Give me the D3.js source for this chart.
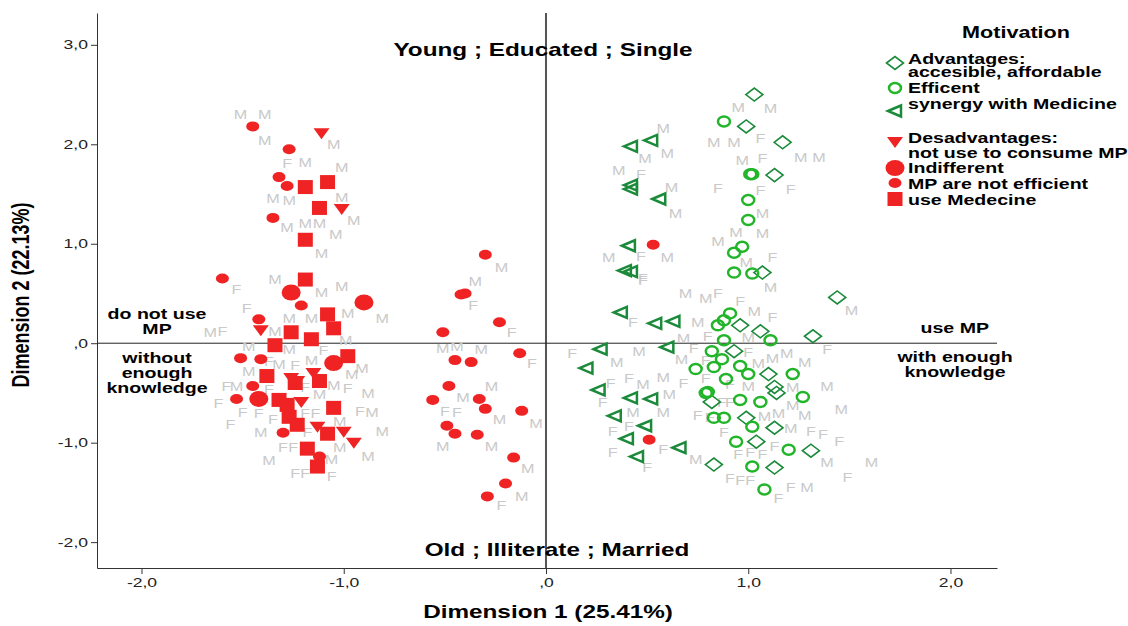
<!DOCTYPE html>
<html>
<head>
<meta charset="utf-8">
<script src="https://cdn.jsdelivr.net/npm/d3@7/dist/d3.min.js"></script>
<style>
body { margin: 0; background: #fff; }
text { font-family: "Liberation Sans", Arial, sans-serif; }
</style>
</head>
<body>
<div id="chart"></div>
<script>
var width = 1128;
var height = 626;
var SX = 1.35; // the picture is stretched sideways, text too

// points per motivation category, [dimension 1, dimension 2]
var notEfficient = [
	[-1.45, 2.18], [-1.27, 1.95], [-1.32, 1.67], [-1.28, 1.58], [-1.35, 1.26], [-1.60, 0.65],
	[-1.21, 0.38], [-1.42, 0.24], [-1.51, -0.15], [-1.41, -0.16], [-1.45, -0.43], [-1.53, -0.56],
	[-1.30, -0.90], [-1.12, -1.14],
	[-0.30, 0.89], [-0.42, 0.49], [-0.40, 0.50], [-0.23, 0.21], [-0.51, 0.11], [-0.13, -0.10],
	[-0.45, -0.17], [-0.37, -0.19], [-0.48, -0.43], [-0.56, -0.57], [-0.33, -0.56], [-0.30, -0.66],
	[-0.12, -0.68], [-0.49, -0.83], [-0.45, -0.91], [-0.34, -0.92], [-0.16, -1.15], [-0.20, -1.41],
	[-0.29, -1.54],
	[0.53, 0.99], [0.51, -0.97]
];
var indifferent = [[-1.26, 0.51], [-0.90, 0.41], [-1.05, -0.20], [-1.42, -0.56]];
var useMedecine = [
	[-1.19, 1.57], [-1.08, 1.62], [-1.12, 1.36], [-1.19, 1.04], [-1.19, 0.64], [-1.08, 0.29],
	[-1.05, 0.15], [-1.26, 0.11], [-1.16, 0.04], [-1.34, -0.02], [-0.98, -0.13], [-1.38, -0.33],
	[-1.24, -0.40], [-1.12, -0.38], [-1.32, -0.57], [-1.28, -0.62], [-1.05, -0.65], [-1.27, -0.74],
	[-1.23, -0.82], [-1.08, -0.91], [-1.18, -1.06], [-1.13, -1.24]
];
var notUseToConsume = [
	[-1.11, 2.11], [-1.01, 1.35], [-1.41, 0.13], [-1.26, -0.35], [-1.15, -0.30], [-1.23, -0.38],
	[-1.21, -0.59], [-1.13, -0.84], [-1.00, -0.89], [-0.95, -1.00]
];
var efficent = [
	[0.88, 2.23], [1.01, 1.70], [1.02, 1.70], [1.00, 1.44], [1.00, 1.24], [0.97, 0.97], [0.93, 0.91],
	[0.93, 0.71], [1.02, 0.70], [0.91, 0.30], [0.88, 0.23], [0.85, 0.18], [1.11, 0.03], [0.88, 0.03],
	[0.82, -0.08], [0.87, -0.16], [0.83, -0.24], [0.96, -0.23], [1.00, -0.31], [1.22, -0.31],
	[0.89, -0.36], [0.80, -0.49], [0.96, -0.57], [1.06, -0.59], [1.27, -0.54], [0.88, -0.75],
	[1.02, -0.84], [0.94, -0.99], [1.20, -1.07], [1.02, -1.24], [1.08, -1.47], [0.74, -0.26],
	[0.79, -0.50], [0.83, -0.75]
];
var advantages = [
	[1.03, 2.50], [0.99, 2.18], [1.17, 2.02], [1.13, 1.69], [1.07, 0.71], [1.44, 0.46], [0.96, 0.18],
	[1.06, 0.12], [1.32, 0.07], [0.93, -0.08], [1.10, -0.31], [1.13, -0.44], [1.14, -0.50],
	[0.82, -0.59], [0.99, -0.75], [1.13, -0.85], [1.04, -0.99], [1.31, -1.08], [0.83, -1.22],
	[1.13, -1.25]
];
var synergy = [
	[0.42, 1.98], [0.52, 2.04], [0.42, 1.59], [0.42, 1.55], [0.56, 1.45], [0.41, 0.98], [0.39, 0.73],
	[0.42, 0.72], [0.37, 0.31], [0.54, 0.20], [0.63, 0.22], [0.60, -0.04], [0.27, -0.06], [0.20, -0.25],
	[0.26, -0.47], [0.42, -0.55], [0.52, -0.56], [0.34, -0.73], [0.49, -0.83], [0.40, -0.96],
	[0.45, -1.14], [0.66, -1.05]
];

// gender of each respondent, [dimension 1, dimension 2, label]
var genderLabels = [
	[-1.51, 2.30, "M"], [-1.39, 2.30, "M"], [-1.39, 2.04, "M"], [-1.05, 2.00, "M"], [-1.28, 1.81, "F"],
	[-1.19, 1.82, "M"], [-1.01, 1.77, "M"], [-1.35, 1.46, "M"], [-1.27, 1.43, "M"], [-1.01, 1.47, "M"],
	[-0.95, 1.23, "M"], [-1.28, 1.16, "M"], [-1.19, 1.20, "M"], [-1.12, 1.20, "M"], [-1.04, 1.09, "M"],
	[-1.11, 0.90, "M"],
	[-1.34, 0.64, "M"], [-1.53, 0.54, "F"], [-1.11, 0.51, "M"], [-1.01, 0.57, "M"], [-1.48, 0.35, "F"],
	[-1.27, 0.25, "M"], [-1.16, 0.25, "M"], [-0.98, 0.30, "M"], [-0.81, 0.25, "M"], [-1.66, 0.11, "M"],
	[-1.60, 0.12, "F"], [-1.34, 0.12, "M"], [-1.47, -0.03, "M"], [-1.27, -0.06, "M"], [-1.10, -0.07, "F"],
	[-0.99, 0.03, "M"], [-1.37, -0.18, "F"], [-1.32, -0.21, "M"], [-1.24, -0.22, "F"], [-1.16, -0.17, "M"],
	[-1.47, -0.28, "M"], [-0.96, -0.31, "M"], [-0.91, -0.25, "M"], [-1.58, -0.44, "F"], [-1.53, -0.44, "M"],
	[-1.37, -0.47, "F"], [-1.19, -0.45, "F"], [-1.12, -0.52, "M"], [-1.05, -0.43, "M"], [-0.98, -0.46, "F"],
	[-0.88, -0.51, "M"], [-1.62, -0.61, "F"], [-1.50, -0.70, "F"], [-1.42, -0.71, "F"], [-1.35, -0.77, "F"],
	[-1.19, -0.71, "F"], [-1.14, -0.71, "F"], [-0.92, -0.69, "F"], [-0.86, -0.70, "M"], [-1.02, -0.79, "M"],
	[-1.56, -0.82, "F"], [-1.41, -0.90, "M"], [-1.18, -0.90, "F"], [-0.81, -0.89, "M"], [-1.30, -1.05, "F"],
	[-1.25, -1.05, "F"], [-1.02, -1.05, "M"], [-1.37, -1.18, "M"], [-1.06, -1.17, "M"], [-0.88, -1.14, "M"],
	[-1.24, -1.31, "F"], [-1.19, -1.31, "F"], [-1.06, -1.34, "F"],
	[-0.22, 0.76, "M"], [-0.35, 0.62, "M"], [-0.36, 0.38, "F"], [-0.17, 0.11, "F"], [-0.51, -0.05, "M"],
	[-0.44, -0.03, "M"], [-0.32, -0.06, "M"], [-0.07, -0.20, "F"], [-0.27, -0.44, "M"], [-0.41, -0.55, "M"],
	[-0.50, -0.69, "F"], [-0.44, -0.70, "F"], [-0.23, -0.77, "M"], [-0.05, -0.81, "M"], [-0.51, -1.04, "M"],
	[-0.27, -1.04, "M"], [-0.09, -1.26, "M"], [-0.12, -1.54, "M"], [-0.22, -1.63, "F"],
	[0.58, 2.16, "M"], [0.83, 2.02, "M"], [0.49, 1.86, "M"], [0.60, 1.91, "M"], [0.36, 1.74, "M"],
	[0.47, 1.70, "F"], [0.62, 1.57, "M"], [0.64, 1.30, "M"], [0.85, 1.56, "F"], [0.85, 1.02, "M"],
	[0.31, 0.86, "M"], [0.47, 0.87, "F"], [0.60, 0.86, "M"], [0.48, 0.65, "F"],
	[0.95, 2.37, "M"], [1.11, 2.36, "M"], [0.93, 2.02, "M"], [1.06, 2.06, "F"], [1.26, 1.87, "M"],
	[1.35, 1.87, "M"], [0.97, 1.84, "M"], [1.07, 1.86, "F"], [1.06, 1.54, "F"], [1.21, 1.55, "F"],
	[1.07, 1.30, "M"], [0.94, 1.11, "M"], [1.07, 1.10, "M"], [0.99, 0.81, "M"], [1.12, 0.86, "F"],
	[0.48, 0.63, "F"], [0.69, 0.50, "M"], [0.79, 0.45, "M"], [0.85, 0.50, "F"], [0.43, 0.21, "F"],
	[0.75, 0.21, "M"], [0.68, 0.05, "M"], [0.80, 0.07, "F"], [0.13, -0.10, "F"], [0.35, -0.19, "M"],
	[0.46, -0.08, "M"], [0.67, -0.16, "M"], [0.73, -0.05, "F"], [0.79, -0.17, "F"], [0.32, -0.40, "F"],
	[0.41, -0.35, "F"], [0.48, -0.42, "M"], [0.58, -0.34, "M"], [0.68, -0.40, "F"], [0.79, -0.35, "F"],
	[0.61, -0.52, "M"], [0.28, -0.60, "F"], [0.43, -0.70, "M"], [0.58, -0.70, "M"], [0.75, -0.73, "F"],
	[0.81, -0.75, "F"], [0.33, -0.89, "F"], [0.41, -0.84, "F"], [0.58, -1.07, "F"], [0.33, -1.10, "F"],
	[0.50, -1.25, "F"], [0.74, -1.17, "M"],
	[1.11, 0.56, "M"], [0.96, 0.42, "F"], [1.03, 0.32, "M"], [1.12, 0.26, "F"], [1.51, 0.33, "M"],
	[1.00, 0.06, "M"], [1.39, -0.06, "F"], [1.00, -0.09, "F"], [1.05, -0.20, "M"], [1.12, -0.15, "M"],
	[1.19, -0.10, "M"], [1.28, -0.19, "M"], [0.91, -0.42, "F"], [1.00, -0.44, "M"], [1.22, -0.45, "M"],
	[1.39, -0.44, "M"], [0.87, -0.60, "F"], [0.91, -0.60, "F"], [1.22, -0.63, "M"], [1.46, -0.67, "M"],
	[1.08, -0.74, "M"], [1.15, -0.71, "M"], [1.28, -0.73, "M"], [1.21, -0.86, "M"], [1.31, -0.89, "F"],
	[1.37, -0.92, "F"], [1.45, -0.99, "F"], [0.88, -0.90, "F"], [0.95, -1.12, "F"], [1.01, -1.10, "F"],
	[1.07, -1.12, "F"], [1.13, -1.04, "F"], [1.39, -1.20, "M"], [1.61, -1.20, "M"], [1.49, -1.35, "F"],
	[0.91, -1.36, "F"], [0.96, -1.38, "F"], [1.01, -1.38, "F"], [1.21, -1.45, "F"], [1.29, -1.45, "M"],
	[1.15, -1.56, "F"]
];

var xTicks = [-2, -1, 0, 1, 2];
var yTicks = [-2, -1, 0, 1, 2, 3];
var legendTitle = "Motivation";
var legendLabels = [
	["Advantages:", "accesible, affordable"], ["Efficent"], ["synergy with Medicine"],
	["Desadvantages:", "not use to consume MP"], ["Indifferent"], ["MP are not efficient"], ["use Medecine"]
];

var red = "#ef2323";
var green = "#22b52a";
var darkGreen = "#1b8a3a";
var gray = "#c9c9c9";

var svg = d3.select("#chart").append("svg")
	.attr("width", width)
	.attr("height", height);

var x = d3.scaleLinear().domain([-2.22, 2.23]).range([97, 997]);
var y = d3.scaleLinear().domain([-2.26, 3.32]).range([568, 13]);

function tickFmt(d) {
	if (d === 0) return ",0";
	return d3.format(".1f")(d).replace(".", ",").replace("\u2212", "-");
}

// stretched text helper
function label(g, px, py, str, size, anchor, weight, fill) {
	return g.append("text")
		.attr("transform", "translate(" + px + "," + py + ") scale(" + SX + ",1)")
		.attr("text-anchor", anchor || "start")
		.style("font-size", size + "px")
		.style("font-weight", weight || "bold")
		.style("fill", fill || "#000")
		.text(str);
}

// axes
var xAxis = svg.append("g")
	.attr("transform", "translate(0,568)")
	.call(d3.axisBottom(x).tickValues(xTicks).tickSize(6).tickSizeOuter(0).tickPadding(4).tickFormat(tickFmt));
xAxis.selectAll("text")
	.attr("transform", "scale(" + SX + ",1)")
	.style("font-size", "13px").style("fill", "#222");

var yAxis = svg.append("g")
	.attr("transform", "translate(97,0)")
	.call(d3.axisLeft(y).tickValues(yTicks).tickSize(6).tickSizeOuter(0).tickPadding(3).tickFormat(tickFmt));
yAxis.selectAll("text")
	.attr("x", -9 / SX)
	.attr("transform", "scale(" + SX + ",1)")
	.style("font-size", "13px").style("fill", "#222");
svg.selectAll(".domain").attr("stroke", "#333");
svg.selectAll(".tick line").attr("stroke", "#333");

// reference lines through the origin
svg.append("line")
	.attr("x1", x(0)).attr("x2", x(0))
	.attr("y1", y.range()[1]).attr("y2", y.range()[0])
	.attr("stroke", "#555").attr("stroke-width", 2);
svg.append("line")
	.attr("x1", x.range()[0]).attr("x2", x.range()[1])
	.attr("y1", y(0)).attr("y2", y(0))
	.attr("stroke", "#222").attr("stroke-width", 1);

// gender labels
var lab = svg.append("g");
genderLabels.forEach(function(d) {
	label(lab, x(d[0]), y(d[1]) + 4.5, d[2], 12, "middle", "normal", gray);
});

// symbols
function drawSymbol(g, kind, px, py) {
	if (kind == "smallCircle") {
		g.append("ellipse").attr("cx", px).attr("cy", py).attr("rx", 6.5).attr("ry", 5).attr("fill", red);
	} else if (kind == "bigCircle") {
		g.append("ellipse").attr("cx", px).attr("cy", py).attr("rx", 9.5).attr("ry", 8).attr("fill", red);
	} else if (kind == "square") {
		g.append("rect").attr("x", px - 7.5).attr("y", py - 7).attr("width", 15).attr("height", 14).attr("fill", red);
	} else if (kind == "triDown") {
		g.append("path").attr("d", "M" + (px - 8) + "," + (py - 5) + "L" + (px + 8) + "," + (py - 5) + "L" + px + "," + (py + 6) + "Z")
			.attr("fill", red);
	} else if (kind == "ring") {
		g.append("ellipse").attr("cx", px).attr("cy", py).attr("rx", 6).attr("ry", 5)
			.attr("fill", "none").attr("stroke", green).attr("stroke-width", 2.5);
	} else if (kind == "diamond") {
		g.append("path").attr("d", "M" + (px - 8.5) + "," + py + "L" + px + "," + (py - 6.5) + "L" + (px + 8.5) + "," + py + "L" + px + "," + (py + 6.5) + "Z")
			.attr("fill", "none").attr("stroke", darkGreen).attr("stroke-width", 1.6);
	} else if (kind == "triLeft") {
		g.append("path").attr("d", "M" + (px - 7) + "," + py + "L" + (px + 6) + "," + (py - 5.5) + "L" + (px + 6) + "," + (py + 5.5) + "Z")
			.attr("fill", "none").attr("stroke", darkGreen).attr("stroke-width", 2.5).attr("stroke-linejoin", "miter");
	}
}

var series = [
	[synergy, "triLeft"], [advantages, "diamond"], [efficent, "ring"],
	[notEfficient, "smallCircle"], [indifferent, "bigCircle"], [useMedecine, "square"], [notUseToConsume, "triDown"]
];
var marks = svg.append("g");
series.forEach(function(s) {
	s[0].forEach(function(d) { drawSymbol(marks, s[1], x(d[0]), y(d[1])); });
});

// quadrant notes
var notes = svg.append("g");
label(notes, 543, 56, "Young ; Educated ; Single", 18, "middle");
label(notes, 557, 556, "Old ; Illiterate ; Married", 18, "middle");
label(notes, 157, 319, "do not use", 14.5, "middle");
label(notes, 157, 334, "MP", 14.5, "middle");
label(notes, 157, 363, "without", 14.5, "middle");
label(notes, 157, 378, "enough", 14.5, "middle");
label(notes, 157, 393, "knowledge", 14.5, "middle");
label(notes, 989, 333, "use MP", 14.5, "end");
label(notes, 955, 362, "with enough", 14.5, "middle");
label(notes, 955, 377, "knowledge", 14.5, "middle");

// axis titles
label(svg, 548, 618, "Dimension  1 (25.41%)", 18, "middle");
svg.append("text")
	.attr("transform", "translate(29,295) rotate(-90) scale(1," + SX + ")")
	.attr("text-anchor", "middle")
	.style("font-size", "18px").style("font-weight", "bold")
	.text("Dimension 2 (22.13%)");

// legend
var leg = svg.append("g");
label(leg, 1016, 38, legendTitle, 16, "middle");
var legKinds = ["diamond", "ring", "triLeft", "triDown", "bigCircle", "smallCircle", "square"];
var legSymY = [63, 88, 111, 142, 168, 183, 199];
var legTextY = [[64, 77], [93], [109], [143, 158], [173], [189], [205]];
legKinds.forEach(function(k, i) {
	drawSymbol(leg, k, 895, legSymY[i]);
	legendLabels[i].forEach(function(t, j) {
		label(leg, 908, legTextY[i][j], t, 14.5, "start");
	});
});
</script>
</body>
</html>
